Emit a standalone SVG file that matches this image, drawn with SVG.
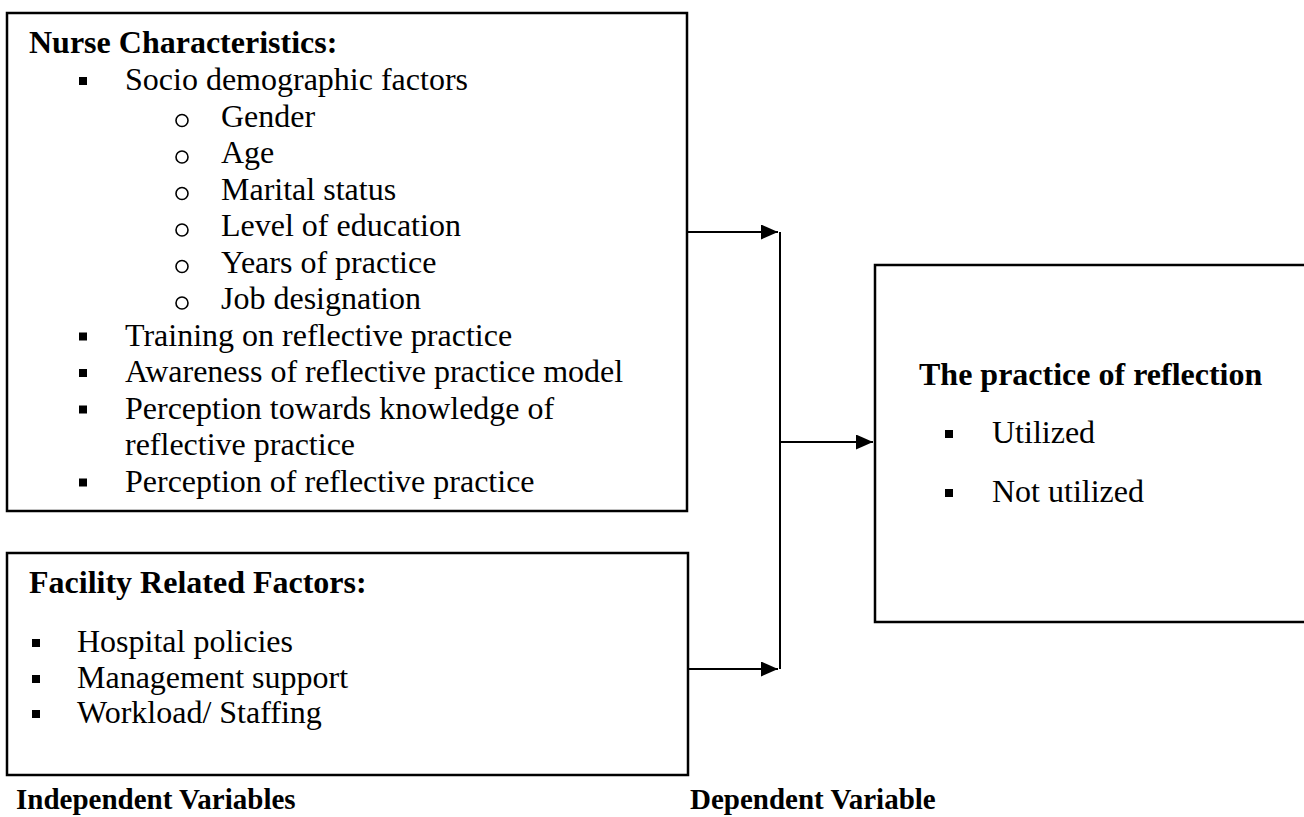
<svg xmlns="http://www.w3.org/2000/svg" width="1304" height="817" viewBox="0 0 1304 817">
<defs>
<style>
.box{fill:#fff;stroke:#000;stroke-width:2.5}
.t{font-family:"Liberation Serif","Times New Roman",serif;font-size:32px;fill:#000}
.b{font-weight:bold}
.lbl{font-family:"Liberation Serif","Times New Roman",serif;font-size:29px;font-weight:bold;fill:#000}
.sq{fill:#000}
.ob{fill:none;stroke:#000;stroke-width:1.6}
.con{stroke:#000;stroke-width:2;fill:none}
</style>
<marker id="ah" viewBox="0 0 17 15" refX="17" refY="7.5" markerWidth="17" markerHeight="15" markerUnits="userSpaceOnUse" orient="auto">
<path d="M0,0 L17,7.5 L0,15 Z" fill="#000"/>
</marker>
</defs>
<rect width="1304" height="817" fill="#fff"/>
<g id="nurse">
<rect class="box" x="7" y="13" width="680" height="498"/>
<text class="t b" x="29" y="53">Nurse Characteristics:</text>
<rect class="sq" x="79" y="77" width="8" height="8"/>
<text class="t" x="125" y="90">Socio demographic factors</text>
<circle class="ob" cx="182" cy="120.5" r="6"/>
<text class="t" x="221" y="126.5">Gender</text>
<circle class="ob" cx="182" cy="157" r="6"/>
<text class="t" x="221" y="163">Age</text>
<circle class="ob" cx="182" cy="193.5" r="6"/>
<text class="t" x="221" y="199.5">Marital status</text>
<circle class="ob" cx="182" cy="230" r="6"/>
<text class="t" x="221" y="236">Level of education</text>
<circle class="ob" cx="182" cy="266.5" r="6"/>
<text class="t" x="221" y="272.5">Years of practice</text>
<circle class="ob" cx="182" cy="303" r="6"/>
<text class="t" x="221" y="309">Job designation</text>
<rect class="sq" x="79" y="332.5" width="8" height="8"/>
<text class="t" x="125" y="345.5">Training on reflective practice</text>
<rect class="sq" x="79" y="369" width="8" height="8"/>
<text class="t" x="125" y="382">Awareness of reflective practice model</text>
<rect class="sq" x="79" y="405.5" width="8" height="8"/>
<text class="t" x="125" y="418.5">Perception towards knowledge of</text>
<text class="t" x="125" y="455">reflective practice</text>
<rect class="sq" x="79" y="478.5" width="8" height="8"/>
<text class="t" x="125" y="491.5">Perception of reflective practice</text>
</g>
<g id="facility">
<rect class="box" x="7" y="553" width="681" height="222"/>
<text class="t b" x="29" y="593">Facility Related Factors:</text>
<rect class="sq" x="32" y="639" width="8" height="8"/>
<text class="t" x="77" y="652">Hospital policies</text>
<rect class="sq" x="32" y="675" width="8" height="8"/>
<text class="t" x="77" y="688">Management support</text>
<rect class="sq" x="32" y="710" width="8" height="8"/>
<text class="t" x="77" y="723">Workload/ Staffing</text>
</g>
<g id="outcome">
<rect class="box" x="875" y="265" width="432" height="357"/>
<text class="t b" x="919" y="385">The practice of reflection</text>
<rect class="sq" x="945" y="430" width="8" height="8"/>
<text class="t" x="992" y="443">Utilized</text>
<rect class="sq" x="945" y="489" width="8" height="8"/>
<text class="t" x="992" y="502">Not utilized</text>
</g>
<g id="connectors">
<line class="con" x1="688" y1="232" x2="778" y2="232" marker-end="url(#ah)"/>
<line class="con" x1="689" y1="669" x2="778" y2="669" marker-end="url(#ah)"/>
<line class="con" x1="780" y1="232" x2="780" y2="669"/>
<line class="con" x1="780" y1="442" x2="873" y2="442" marker-end="url(#ah)"/>
</g>
<g id="labels">
<text class="lbl" x="16" y="809">Independent Variables</text>
<text class="lbl" x="690" y="809">Dependent Variable</text>
</g>
</svg>
